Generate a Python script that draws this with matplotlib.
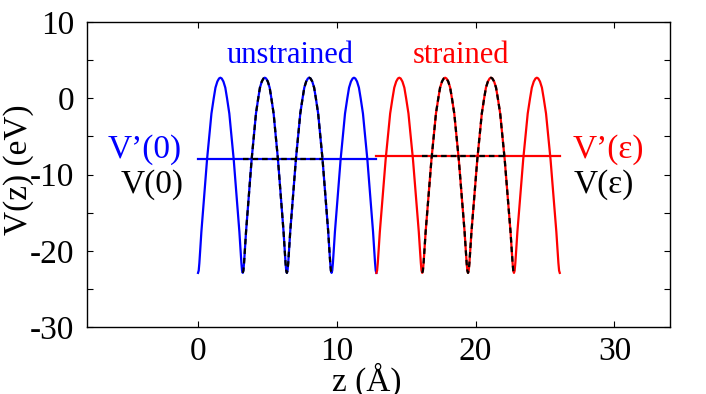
import numpy as np
import matplotlib
matplotlib.use("Agg")
import matplotlib.pyplot as plt
from matplotlib.ticker import MultipleLocator

plt.rcParams['font.family'] = ['Liberation Serif', 'DejaVu Serif']
plt.rcParams['axes.unicode_minus'] = False

## one half period of the potential (fraction of period, V in eV)
half_frac = [0.0, 0.015, 0.03, 0.05, 0.075, 0.134, 0.202, 0.261, 0.30, 0.351, 0.39, 0.432, 0.47, 0.5]
half_v = [-22.9, -22.6, -21.6, -19.8, -17.5, -13.1, -8.0, -4.4, -2.0, 0.0, 1.4, 2.2, 2.6, 2.7]

## positions of the minima (z in Angstrom)
blue_troughs = [0.0, 3.22, 6.40, 9.62, 12.85]
red_troughs = [12.85, 16.15, 19.45, 22.76, 26.06]

## average potentials
v_avg_unstrained = -7.95
v_avg_strained = -7.6

## ranges of the black dashed V lines
v0_range = [3.22, 9.0]
veps_range = [16.15, 22.2]


def build_curve(troughs):
    frac = np.array(half_frac + [1.0 - f for f in half_frac[::-1][1:]])
    prof = np.array(half_v + half_v[::-1][1:])
    zs = []
    vs = []
    for t0, t1 in zip(troughs[:-1], troughs[1:]):
        zs.append(t0 + frac * (t1 - t0))
        vs.append(prof)
    return np.concatenate(zs), np.concatenate(vs)


zb, vb = build_curve(blue_troughs)
zr, vr = build_curve(red_troughs)
zb_mid, vb_mid = build_curve(blue_troughs[1:4])
zr_mid, vr_mid = build_curve(red_troughs[1:4])

fig = plt.figure(figsize=(7.06, 3.94), dpi=100)
ax = fig.add_axes([0.1232, 0.170, 0.8258, 0.774])

lw = 1.6
ax.plot(zb, vb, color="blue", linewidth=lw)
ax.plot(zr, vr, color="red", linewidth=lw)
ax.plot([blue_troughs[0], blue_troughs[-1]], [v_avg_unstrained] * 2, color="blue", linewidth=lw)
ax.plot([red_troughs[0], red_troughs[-1]], [v_avg_strained] * 2, color="red", linewidth=lw)

dash = (0, (2.5, 1.8))
ax.plot(zb_mid, vb_mid, color="black", linewidth=lw, linestyle=dash)
ax.plot(zr_mid, vr_mid, color="black", linewidth=lw, linestyle=dash)
ax.plot(v0_range, [v_avg_unstrained] * 2, color="black", linewidth=lw, linestyle=dash)
ax.plot(veps_range, [v_avg_strained] * 2, color="black", linewidth=lw, linestyle=dash)

ax.text(6.65, 4.6, "unstrained", color="blue", fontsize=22, ha="center", va="baseline")
ax.text(18.97, 4.6, "strained", color="red", fontsize=22, ha="center", va="baseline")
ax.text(-1.15, -7.8, "V\u2019(0)", color="blue", fontsize=24, ha="right", va="baseline")
ax.text(-1.05, -12.4, "V(0)", color="black", fontsize=24, ha="right", va="baseline")
ax.text(27.0, -7.8, "V\u2019(\u03b5)", color="red", fontsize=24, ha="left", va="baseline")
ax.text(27.05, -12.4, "V(\u03b5)", color="black", fontsize=24, ha="left", va="baseline")

ax.set_xlim(-8, 34)
ax.set_ylim(-30, 10)
ax.xaxis.set_major_locator(MultipleLocator(10))
ax.yaxis.set_major_locator(MultipleLocator(10))
ax.yaxis.set_minor_locator(MultipleLocator(5))
ax.tick_params(which="both", direction="in", top=True, right=True, length=4, width=0.8,
               labelsize=24)
ax.tick_params(axis="x", pad=7)
ax.tick_params(axis="y", pad=9)
for s in ax.spines.values():
    s.set_linewidth(1.0)

ax.set_xlabel("z (\u00c5)", fontsize=24)
ax.xaxis.set_label_coords(0.48, -0.118)
ax.set_ylabel("V(z) (eV)", fontsize=24, va="center")
ax.yaxis.set_label_coords(-0.118, 0.515)

fig.savefig("out.png", dpi=100)
